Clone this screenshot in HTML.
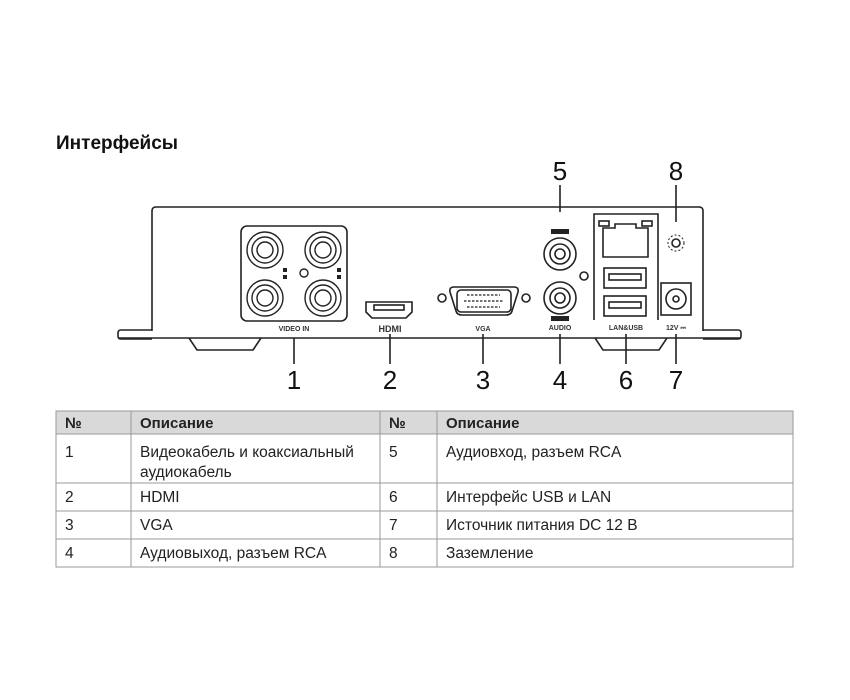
<!DOCTYPE html>
<html><head><meta charset="utf-8"><style>
html,body{margin:0;padding:0;background:#fff;width:850px;height:700px;overflow:hidden}
svg{position:absolute;left:0;top:0}
text{font-family:"Liberation Sans","DejaVu Sans",sans-serif}
</style></head><body>
<svg width="850" height="700" viewBox="0 0 850 700">
<text x="56" y="149" font-size="19" font-weight="bold" fill="#111">Интерфейсы</text>
<g fill="none" stroke="#222" stroke-width="1.6">
<path d="M152 331 V211 Q152 207 156 207 H699 Q703 207 703 211 V331"/>
<line x1="118" y1="338" x2="741" y2="338"/>
<path d="M152 330 H121 Q118 330 118 333 V336 Q118 339 121 339 H152"/>
<path d="M703 330 H738 Q741 330 741 333 V336 Q741 339 738 339 H703"/>
<path d="M189 338 L197 350 H253 L261 338"/>
<path d="M595 338 L603 350 H659 L667 338"/>
<rect x="241" y="226" width="106" height="95" rx="6"/>
<g stroke-width="1.4">
<circle cx="265" cy="250" r="18"/><circle cx="265" cy="250" r="13"/><circle cx="265" cy="250" r="8"/>
<circle cx="323" cy="250" r="18"/><circle cx="323" cy="250" r="13"/><circle cx="323" cy="250" r="8"/>
<circle cx="265" cy="298" r="18"/><circle cx="265" cy="298" r="13"/><circle cx="265" cy="298" r="8"/>
<circle cx="323" cy="298" r="18"/><circle cx="323" cy="298" r="13"/><circle cx="323" cy="298" r="8"/>
<circle cx="304" cy="273" r="4"/>
</g>
<path d="M366 302 H412 V312 L406 318 H372 L366 312 Z"/>
<rect x="374" y="305" width="30" height="5"/>
<circle cx="442" cy="298" r="4"/><circle cx="526" cy="298" r="4"/>
<path d="M454 287 H514 Q519 287 518 292 L512 311 Q511 315 506 315 H462 Q457 315 456 311 L450 292 Q449 287 454 287 Z"/>
<rect x="457" y="290" width="54" height="22" rx="4"/>
<g stroke-width="1.2" stroke-dasharray="2.5 1.5"><line x1="467" y1="295" x2="500" y2="295"/><line x1="464" y1="301" x2="504" y2="301"/><line x1="467" y1="307" x2="500" y2="307"/></g>
<circle cx="560" cy="254" r="16"/><circle cx="560" cy="254" r="10"/><circle cx="560" cy="254" r="5"/>
<circle cx="560" cy="298" r="16"/><circle cx="560" cy="298" r="10"/><circle cx="560" cy="298" r="5"/>
<circle cx="584" cy="276" r="4"/>
<path d="M594 320 V214 H658 V320"/>
<path d="M603 228 V257 H648 V228 H636 V224 H615 V228 Z"/>
<rect x="599" y="221" width="10" height="5"/><rect x="642" y="221" width="10" height="5"/>
<rect x="604" y="268" width="42" height="20"/><rect x="609" y="274" width="32" height="6"/>
<rect x="604" y="296" width="42" height="20"/><rect x="609" y="302" width="32" height="6"/>
<circle cx="676" cy="243" r="4"/>
<circle cx="676" cy="243" r="8" stroke-dasharray="2 2" stroke-width="1"/>
<rect x="661" y="283" width="30" height="32"/>
<circle cx="676" cy="299" r="10"/><circle cx="676" cy="299" r="3"/>
<line x1="294" y1="338" x2="294" y2="364"/>
<line x1="390" y1="334" x2="390" y2="364"/>
<line x1="483" y1="334" x2="483" y2="364"/>
<line x1="560" y1="334" x2="560" y2="364"/>
<line x1="626" y1="334" x2="626" y2="364"/>
<line x1="676" y1="334" x2="676" y2="364"/>
<line x1="560" y1="185" x2="560" y2="212"/>
<line x1="676" y1="185" x2="676" y2="222"/>
</g>
<rect x="551" y="229" width="18" height="5" fill="#222"/>
<rect x="551" y="316" width="18" height="5" fill="#222"/>
<g fill="#222"><rect x="283" y="268" width="4" height="4"/><rect x="283" y="275" width="4" height="4"/><rect x="337" y="268" width="4" height="4"/><rect x="337" y="275" width="4" height="4"/></g>
<g font-size="7" font-weight="bold" fill="#333" text-anchor="middle">
<text x="294" y="331">VIDEO IN</text>
<text x="390" y="332" font-size="9">HDMI</text>
<text x="483" y="331">VGA</text>
<text x="560" y="330">AUDIO</text>
<text x="626" y="330">LAN&amp;USB</text>
<text x="676" y="330">12V ⎓</text>
</g>
<g font-size="26" fill="#111" text-anchor="middle">
<text x="294" y="389">1</text><text x="390" y="389">2</text><text x="483" y="389">3</text>
<text x="560" y="389">4</text><text x="626" y="389">6</text><text x="676" y="389">7</text>
<text x="560" y="180">5</text><text x="676" y="180">8</text>
</g>
<rect x="56" y="411" width="737" height="23" fill="#d9d9d9"/>
<g stroke="#999" stroke-width="1" fill="none">
<rect x="56" y="411" width="737" height="156"/>
<line x1="56" y1="434" x2="793" y2="434"/><line x1="56" y1="483" x2="793" y2="483"/>
<line x1="56" y1="511" x2="793" y2="511"/><line x1="56" y1="539" x2="793" y2="539"/>
<line x1="131" y1="411" x2="131" y2="567"/><line x1="380" y1="411" x2="380" y2="567"/>
<line x1="437" y1="411" x2="437" y2="567"/>
</g>
<g font-size="15.5" fill="#222">
<text x="65" y="428" font-weight="bold" font-size="15">№</text><text x="140" y="428" font-weight="bold" font-size="15">Описание</text>
<text x="389" y="428" font-weight="bold" font-size="15">№</text><text x="446" y="428" font-weight="bold" font-size="15">Описание</text>
<text x="65" y="457">1</text><text x="140" y="457">Видеокабель и коаксиальный</text><text x="140" y="477">аудиокабель</text>
<text x="389" y="457">5</text><text x="446" y="457">Аудиовход, разъем RCA</text>
<text x="65" y="502">2</text><text x="140" y="502">HDMI</text><text x="389" y="502">6</text><text x="446" y="502">Интерфейс USB и LAN</text>
<text x="65" y="530">3</text><text x="140" y="530">VGA</text><text x="389" y="530">7</text><text x="446" y="530">Источник питания DC 12 В</text>
<text x="65" y="558">4</text><text x="140" y="558">Аудиовыход, разъем RCA</text><text x="389" y="558">8</text><text x="446" y="558">Заземление</text>
</g>
</svg>
</body></html>
